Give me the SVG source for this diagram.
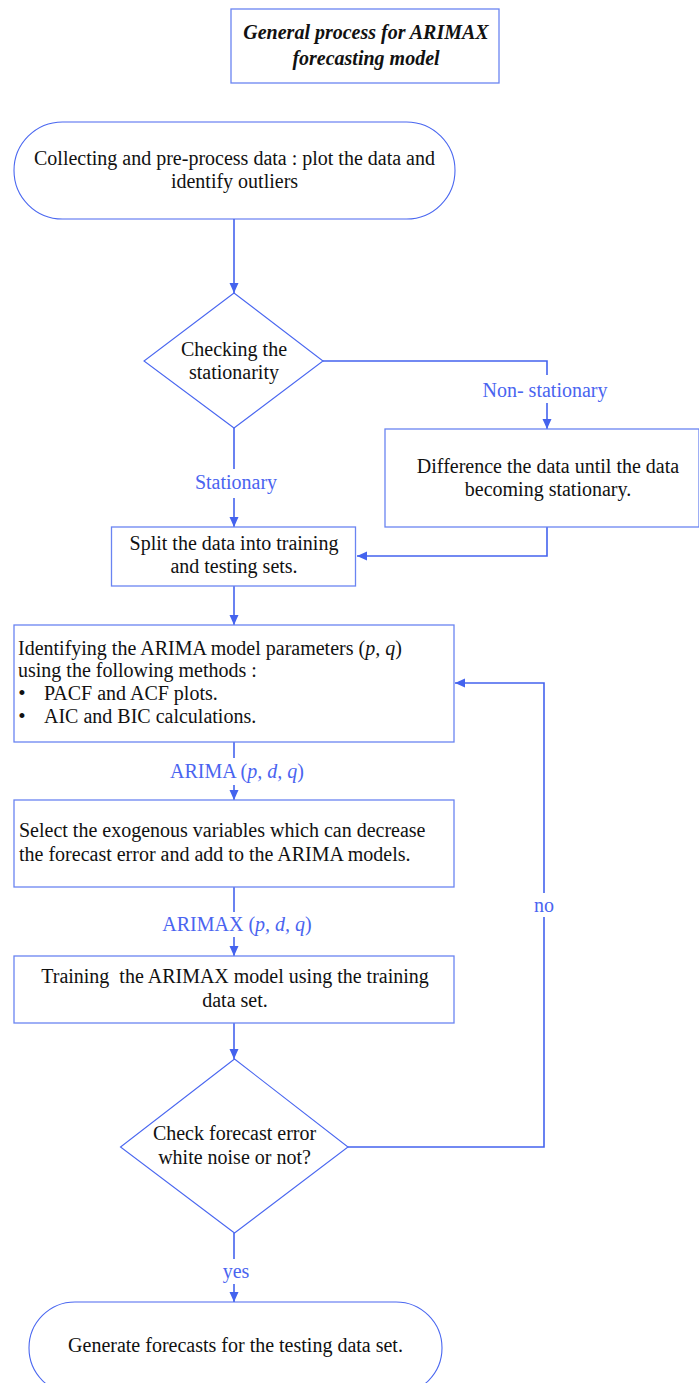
<svg xmlns="http://www.w3.org/2000/svg" width="699" height="1383" viewBox="0 0 699 1383">
<style>
text{font-family:"Liberation Serif","Times New Roman",serif;font-size:20px;fill:#111}
.c{text-anchor:middle}
.lbl{fill:#4a64f0;text-anchor:middle}
.ttl{font-weight:bold;font-style:italic;text-anchor:middle}
.box{fill:#fff;stroke:#6a84f2;stroke-width:1.3}
.dia{fill:#fff;stroke:#4a67f0;stroke-width:1.1}
.term{fill:#fff;stroke:#4a67f0;stroke-width:1.1}
.ln{fill:none;stroke:#4463ee;stroke-width:1.6}
.i{font-style:italic}
.bul{font-size:21px;text-anchor:middle}
</style>
<defs>
<marker id="ah" markerWidth="10" markerHeight="10" viewBox="0 0 10 10" refX="10" refY="5" orient="auto" markerUnits="userSpaceOnUse">
<path d="M0,0.5 L10,5 L0,9.5 Z" fill="#4463ee"/>
</marker>
</defs>
<rect width="699" height="1383" fill="#fff"/>

<g id="connectors">
<path class="ln" d="M234,219 V293" marker-end="url(#ah)"/>
<path class="ln" d="M323,361 H547 V375"/>
<path class="ln" d="M547,403 V429" marker-end="url(#ah)"/>
<path class="ln" d="M547,527 V556 H357" marker-end="url(#ah)"/>
<path class="ln" d="M234,428 V469"/>
<path class="ln" d="M234,498 V527" marker-end="url(#ah)"/>
<path class="ln" d="M234,586 V625" marker-end="url(#ah)"/>
<path class="ln" d="M234,742 V758"/>
<path class="ln" d="M234,785 V800" marker-end="url(#ah)"/>
<path class="ln" d="M234,887 V912"/>
<path class="ln" d="M234,937 V956" marker-end="url(#ah)"/>
<path class="ln" d="M234,1023 V1059" marker-end="url(#ah)"/>
<path class="ln" d="M348,1147 H544 V917"/>
<path class="ln" d="M544,893 V683 H455" marker-end="url(#ah)"/>
<path class="ln" d="M234,1233 V1259"/>
<path class="ln" d="M234,1284 V1302" marker-end="url(#ah)"/>
<text class="lbl" x="545" y="397">Non- stationary</text>
<text class="lbl" x="236" y="489">Stationary</text>
<text class="lbl" x="237" y="778">ARIMA (<tspan class="i">p, d, q</tspan>)</text>
<text class="lbl" x="237" y="931">ARIMAX (<tspan class="i">p, d, q</tspan>)</text>
<text class="lbl" x="544" y="912">no</text>
<text class="lbl" x="236" y="1278">yes</text>
</g>

<g id="title">
<rect class="box" x="231" y="9" width="268" height="74"/>
<text class="ttl" x="366" y="39">General process for ARIMAX</text>
<text class="ttl" x="366" y="65">forecasting model</text>
</g>

<g id="collect">
<rect class="term" x="14" y="122" width="441" height="97" rx="48.5" ry="48.5"/>
<text class="c" x="234.5" y="165">Collecting and pre-process data : plot the data and</text>
<text class="c" x="234.5" y="188">identify outliers</text>
</g>

<g id="check-stationarity">
<polygon class="dia" points="234,293 323,361 234,428 144,361"/>
<text class="c" x="234" y="356">Checking the</text>
<text class="c" x="234" y="379">stationarity</text>
</g>

<g id="difference">
<rect class="box" x="385" y="429" width="314" height="98"/>
<text class="c" x="548" y="473">Difference the data until the data</text>
<text class="c" x="548" y="496">becoming stationary.</text>
</g>

<g id="split">
<rect class="box" x="111.5" y="527" width="244" height="59"/>
<text class="c" x="234" y="550">Split the data into training</text>
<text class="c" x="234" y="573">and testing sets.</text>
</g>

<g id="identify">
<rect class="box" x="14" y="625" width="440" height="117"/>
<text x="18" y="655">Identifying the ARIMA model parameters (<tspan class="i">p, q</tspan>)</text>
<text x="18" y="677">using the following methods :</text>
<text class="bul" x="22" y="700">•</text>
<text x="44" y="700">PACF and ACF plots.</text>
<text class="bul" x="22" y="723">•</text>
<text x="44" y="723">AIC and BIC calculations.</text>
</g>

<g id="select">
<rect class="box" x="14" y="800" width="440" height="87"/>
<text x="19" y="837">Select the exogenous variables which can decrease</text>
<text x="19" y="861">the forecast error and add to the ARIMA models.</text>
</g>

<g id="training">
<rect class="box" x="14" y="956" width="440" height="67"/>
<text class="c" x="235" y="983" xml:space="preserve">Training  the ARIMAX model using the training</text>
<text class="c" x="235" y="1007">data set.</text>
</g>

<g id="check-error">
<polygon class="dia" points="234.5,1059 348,1147 234.5,1233 120.5,1147"/>
<text class="c" x="234.5" y="1140">Check forecast error</text>
<text class="c" x="234.5" y="1164">white noise or not?</text>
</g>

<g id="generate">
<rect class="term" x="29" y="1302" width="413" height="92" rx="46" ry="46"/>
<text class="c" x="235.5" y="1352">Generate forecasts for the testing data set.</text>
</g>
</svg>
